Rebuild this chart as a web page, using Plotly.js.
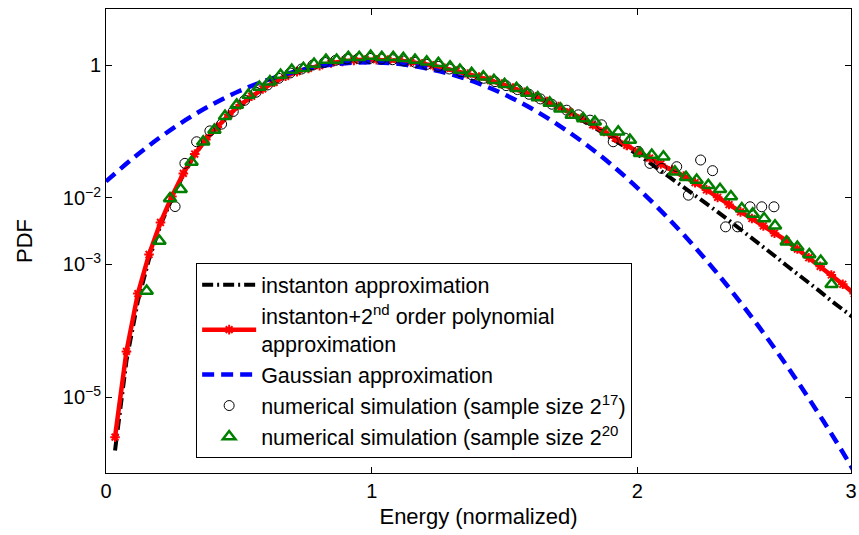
<!DOCTYPE html>
<html>
<head>
<meta charset="utf-8">
<script src="https://cdn.plot.ly/plotly-3.0.1.min.js"></script>
<style>html,body{margin:0;padding:0;background:#fff;}#chart{width:859px;height:535px;}</style>
</head>
<body>
<div id="chart"></div>
<script>
// ---- data ----
const binX = [0.034,0.077,0.120,0.162,0.205,0.248,0.291,0.334,0.376,0.419,0.462,0.505,0.548,0.590,0.633,0.676,0.719,0.762,0.804,0.847,0.890,0.933,0.976,1.018,1.061,1.104,1.147,1.190,1.232,1.275,1.318,1.361,1.404,1.446,1.489,1.532,1.575,1.618,1.660,1.703,1.746,1.789,1.832,1.874,1.917,1.960,2.003,2.046,2.088,2.131,2.174,2.217,2.260,2.302,2.345,2.388,2.431,2.474,2.516,2.559,2.602,2.645,2.688,2.730,2.773,2.816];

const instantonPoly = [2.51e-6,4.90e-5,3.63e-4,1.41e-3,4.27e-3,1.05e-2,2.34e-2,4.57e-2,7.59e-2,0.117,0.178,0.251,0.339,0.437,0.550,0.676,0.794,0.891,0.977,1.072,1.135,1.175,1.202,1.202,1.189,1.161,1.109,1.047,0.977,0.891,0.813,0.733,0.661,0.589,0.519,0.452,0.389,0.331,0.282,0.237,0.195,0.158,0.126,0.100,0.0794,0.0617,0.0490,0.0398,0.0324,0.0263,0.0214,0.0170,0.0132,0.0102,7.94e-3,6.17e-3,4.90e-3,3.80e-3,2.95e-3,2.29e-3,1.70e-3,1.26e-3,9.33e-4,6.92e-4,5.01e-4,3.63e-4];

const instanton = [1.58e-6,3.55e-5,2.82e-4,1.20e-3,3.89e-3,9.77e-3,2.24e-2,4.47e-2,7.59e-2,0.117,0.178,0.251,0.339,0.437,0.550,0.676,0.794,0.891,0.977,1.072,1.135,1.175,1.202,1.202,1.189,1.161,1.109,1.047,0.977,0.891,0.813,0.733,0.661,0.589,0.519,0.452,0.389,0.331,0.282,0.237,0.191,0.151,0.120,0.0933,0.0724,0.0575,0.0447,0.0339,0.0257,0.0195,0.0148,0.0112,8.32e-3,6.17e-3,4.57e-3,3.39e-3,2.45e-3,1.82e-3,1.35e-3,9.77e-4,7.24e-4,5.25e-4,3.89e-4,2.82e-4,2.09e-4,1.55e-4];

const gaussX = [0,0.1,0.2,0.3,0.4,0.5,0.6,0.7,0.8,0.9,1.0,1.1,1.2,1.3,1.4,1.5,1.6,1.7,1.8,1.9,2.0,2.1,2.2,2.3,2.4,2.5,2.6,2.7,2.8,2.9];
const gaussY = [0.0177,0.0391,0.0796,0.149,0.255,0.402,0.581,0.773,0.946,1.06,1.10,1.04,0.90,0.724,0.532,0.360,0.223,0.127,0.0667,0.0321,0.0142,0.00575,0.00215,7.38e-4,2.32e-4,6.73e-5,1.79e-5,4.38e-6,9.8e-7,1.9e-7];

const sim17X = [0.260,0.297,0.341,0.391,0.435,0.479,0.522,0.565,0.608,0.650,0.693,0.736,0.779,0.822,0.864,0.907,0.950,0.993,1.036,1.078,1.121,1.164,1.207,1.250,1.292,1.335,1.378,1.421,1.464,1.506,1.549,1.592,1.635,1.678,1.734,1.778,1.822,1.865,1.909,1.953,2.003,2.047,2.091,2.148,2.192,2.238,2.283,2.332,2.377,2.424,2.468,2.514];
const sim17Y = [7.41e-3,3.31e-2,7.00e-2,0.102,0.129,0.200,0.295,0.389,0.501,0.631,0.759,0.871,1.00,1.096,1.175,1.230,1.259,1.259,1.230,1.202,1.148,1.096,1.023,0.955,0.871,0.794,0.708,0.631,0.562,0.490,0.427,0.363,0.309,0.257,0.209,0.178,0.148,0.126,0.0700,0.0794,0.0501,0.0331,0.0278,0.0295,0.0110,0.0372,0.0257,3.67e-3,3.67e-3,7.35e-3,7.35e-3,7.35e-3];

const sim20X = [0.153,0.201,0.241,0.281,0.322,0.366,0.408,0.448,0.492,0.536,0.577,0.617,0.657,0.699,0.743,0.783,0.828,0.868,0.912,0.953,0.996,1.038,1.081,1.119,1.163,1.207,1.251,1.295,1.332,1.376,1.420,1.460,1.500,1.545,1.585,1.625,1.670,1.710,1.753,1.796,1.840,1.884,1.928,1.972,2.010,2.054,2.098,2.141,2.183,2.223,2.267,2.311,2.352,2.393,2.434,2.477,2.518,2.562,2.602,2.647,2.690,2.731];
const sim20Y = [3.98e-4,2.24e-3,9.77e-3,1.35e-2,3.47e-2,7.00e-2,0.105,0.170,0.251,0.355,0.468,0.562,0.708,0.841,0.891,1.035,1.189,1.189,1.306,1.306,1.368,1.306,1.306,1.259,1.189,1.122,1.062,0.942,0.841,0.750,0.667,0.589,0.513,0.447,0.380,0.324,0.269,0.219,0.177,0.157,0.140,0.0989,0.0989,0.0741,0.0468,0.0442,0.0417,0.0247,0.0204,0.0186,0.0155,0.0135,0.0105,6.92e-3,5.75e-3,4.90e-3,3.80e-3,2.19e-3,1.82e-3,1.41e-3,1.12e-3,5.01e-4];

const xTickVals = [0, 1, 2, 2.804];
const xTickText = ['0', '1', '2', '3'];
const yTickVals = [1e-5, 1e-3, 1e-2, 1];
const yTickText = ['10<sup>\u22125</sup>', '10<sup>\u22123</sup>', '10<sup>\u22122</sup>', '1'];

const names = [
  'instanton approximation',
  'instanton+2<sup>nd</sup> order polynomial<br>approximation',
  'Gaussian approximation',
  'numerical simulation (sample size 2<sup>17</sup>)',
  'numerical simulation (sample size 2<sup>20</sup>'
];

const FONT = 'Liberation Sans, Arial, Helvetica, sans-serif';

const traces = [
  {x: binX, y: instanton, name: names[0], mode: 'lines', legendgroup: 'a',
   line: {color: '#000000', width: 4, dash: '11px,4px,2px,4px'}},
  {x: binX, y: instantonPoly, name: names[1], mode: 'lines+markers', legendgroup: 'b',
   line: {color: '#ff0000', width: 4.5},
   marker: {symbol: 'asterisk-open', size: 8, color: '#ff0000', line: {color: '#ff0000', width: 2}}},
  {x: gaussX, y: gaussY, name: names[2], mode: 'lines', legendgroup: 'c',
   line: {color: '#0000ff', width: 4.5, dash: '12px,7px', shape: 'spline'}},
  {x: sim17X, y: sim17Y, name: names[3], mode: 'markers', legendgroup: 'd',
   marker: {symbol: 'circle-open', size: 10, color: '#000000', line: {color: '#000000', width: 1}}},
  {x: sim20X, y: sim20Y, name: names[4], mode: 'markers', legendgroup: 'e',
   marker: {symbol: 'triangle-up-open', size: 11, color: '#007f00', line: {color: '#007f00', width: 2.5}}}
];

const layout = {
  width: 859, height: 535,
  margin: {l: 106, r: 8, t: 9, b: 62, pad: 0},
  paper_bgcolor: '#ffffff', plot_bgcolor: '#ffffff',
  font: {family: FONT, size: 20, color: '#000000'},
  showlegend: true,
  legend: {
    x: 0.121, y: 0.452, xanchor: 'left', yanchor: 'top',
    bgcolor: '#ffffff', bordercolor: '#000000', borderwidth: 1,
    font: {family: FONT, size: 21.5, color: '#000000'},
    itemwidth: 54, tracegroupgap: 3, traceorder: 'normal'
  },
  xaxis: {
    range: [0, 2.804], showgrid: false, zeroline: false,
    showline: true, linecolor: '#000000', linewidth: 1, mirror: 'ticks',
    ticks: 'inside', ticklen: 6, tickcolor: '#000000',
    tickmode: 'array', tickvals: xTickVals, ticktext: xTickText,
    tickfont: {family: FONT, size: 20},
    title: {text: 'Energy (normalized)', font: {family: FONT, size: 22}, standoff: 7}
  },
  yaxis: {
    type: 'log', range: [-6.14, 0.843], showgrid: false, zeroline: false,
    showline: true, linecolor: '#000000', linewidth: 1, mirror: 'ticks',
    ticks: 'inside', ticklen: 6, tickcolor: '#000000',
    tickmode: 'array', tickvals: yTickVals, ticktext: yTickText,
    tickfont: {family: FONT, size: 20},
    title: {text: 'PDF', font: {family: FONT, size: 22}, standoff: 24}
  }
};

Plotly.newPlot('chart', traces, layout, {displayModeBar: false, staticPlot: true});
</script>
</body>
</html>
